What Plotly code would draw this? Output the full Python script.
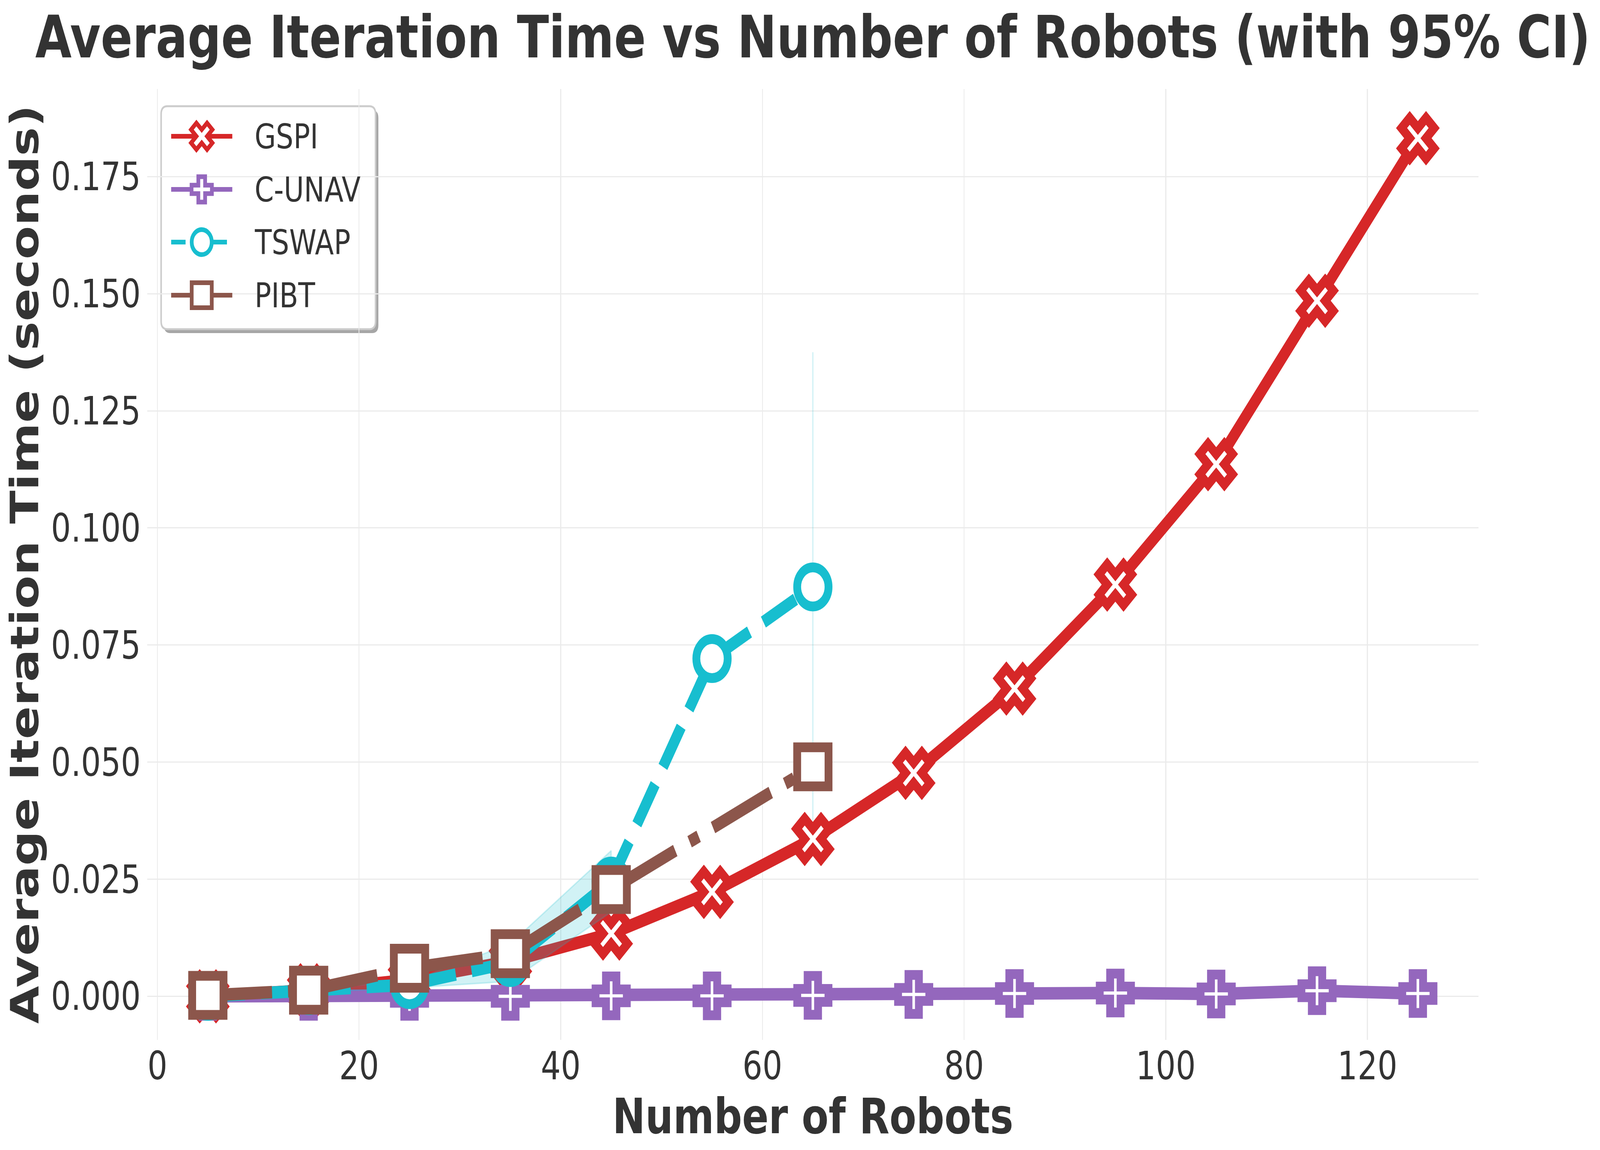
import plotly.graph_objects as go

# ---------------- data ----------------
robots_gspi = [5, 15, 25, 35, 45, 55, 65, 75, 85, 95, 105, 115, 125]
gspi_mean = [0.0000, 0.0013, 0.0035, 0.0075, 0.0134, 0.0223, 0.0336, 0.0477, 0.0657, 0.0879, 0.1136, 0.1485, 0.1832]
gspi_ci = [0.0, 0.00005, 0.0001, 0.0002, 0.0003, 0.0004, 0.0005, 0.0006, 0.0007, 0.0008, 0.0010, 0.0012, 0.0011]

robots_cunav = [5, 15, 25, 35, 45, 55, 65, 75, 85, 95, 105, 115, 125]
cunav_mean = [0.0000, 0.0000, 0.0000, 0.0000, 0.0001, 0.0001, 0.0002, 0.0004, 0.0006, 0.0007, 0.0005, 0.0012, 0.0006]

robots_tswap = [5, 15, 25, 35, 45, 55, 65]
tswap_mean = [0.0000, 0.0012, 0.0025, 0.0072, 0.0246, 0.0721, 0.0874]
tswap_lo = [0.0000, 0.0008, 0.0018, 0.0032, 0.0180, None, 0.0375]
tswap_hi = [0.0000, 0.0016, 0.0032, 0.0112, 0.0311, None, 0.1375]

robots_pibt = [5, 15, 25, 35, 45, 65]
pibt_mean = [0.0002, 0.0013, 0.0060, 0.0091, 0.0228, 0.0490]

series_names = ["GSPI", "C-UNAV", "TSWAP", "PIBT"]
x_ticks = [0, 20, 40, 60, 80, 100, 120]
y_ticks = [0.000, 0.025, 0.050, 0.075, 0.100, 0.125, 0.150, 0.175]

# ---------------- style ----------------
W, H = 5104, 2945
PL, PR, PT, PB = 470, 4716, 228, 2663
PW, PH = PR - PL, PB - PT
FONT = "DejaVu Sans"
TXT = "#333333"
COLORS = {"GSPI": "#d62728", "C-UNAV": "#9467bd", "TSWAP": "#17becf", "PIBT": "#8c564b"}
BAND = {"GSPI": "rgba(214,39,40,0.2)", "TSWAP": "rgba(23,190,207,0.2)"}
SYMBOL = {"GSPI": "x", "C-UNAV": "cross", "TSWAP": "circle", "PIBT": "square"}
MSIZE = {"GSPI": 92, "C-UNAV": 83, "TSWAP": 100, "PIBT": 100}
LSIZE = {"GSPI": 60, "C-UNAV": 54, "TSWAP": 64, "PIBT": 64}
DASH = {"GSPI": "solid", "C-UNAV": "solid", "TSWAP": "118px,51px", "PIBT": "205px,51px,32px,51px"}
LDASH = {"GSPI": "solid", "C-UNAV": "solid", "TSWAP": "46px,20px", "PIBT": "80px,20px,12px,20px"}
LW = 32
MEW = 25

fig = go.Figure()


def band(name, xs, lo, hi):
    segs, cur = [], []
    for x, a, b in zip(xs, lo, hi):
        if a is None or b is None:
            if cur:
                segs.append(cur)
            cur = []
        else:
            cur.append((x, a, b))
    if cur:
        segs.append(cur)
    for seg in segs:
        sx = [p[0] for p in seg]
        px_ = sx + sx[::-1]
        py_ = [p[2] for p in seg] + [p[1] for p in seg][::-1]
        fig.add_trace(go.Scatter(x=px_, y=py_, mode="lines", fill="toself",
                                 fillcolor=BAND[name],
                                 line=dict(color=BAND[name], width=4),
                                 showlegend=False, hoverinfo="skip"))


def line(name, xs, ys):
    fig.add_trace(go.Scatter(
        x=xs, y=ys, mode="lines+markers", name=name, showlegend=False,
        line=dict(color=COLORS[name], width=LW, dash=DASH[name]),
        marker=dict(symbol=SYMBOL[name], size=MSIZE[name], color="white",
                    line=dict(color=COLORS[name], width=MEW))))


band("GSPI", robots_gspi, [m - c for m, c in zip(gspi_mean, gspi_ci)],
     [m + c for m, c in zip(gspi_mean, gspi_ci)])
line("GSPI", robots_gspi, gspi_mean)
line("C-UNAV", robots_cunav, cunav_mean)
band("TSWAP", robots_tswap, tswap_lo, tswap_hi)
line("TSWAP", robots_tswap, tswap_mean)
line("PIBT", robots_pibt, pibt_mean)

# ---------------- custom legend (pixel coords inside plot area) ----------------
LX0, LY0, LX1, LY1, RAD = 44, 44, 728, 615, 20
ROW_Y = [121, 257, 392, 528]
SEG_X0, SEG_X1, MARK_X, TEXT_X = 76, 271, 173.5, 340


def px(x):
    return x / PW


def py(y):
    return 1 - y / PH


def rrect(x0, y0, x1, y1, r):
    return (f"M {px(x0 + r)},{py(y0)} L {px(x1 - r)},{py(y0)} Q {px(x1)},{py(y0)} {px(x1)},{py(y0 + r)} "
            f"L {px(x1)},{py(y1 - r)} Q {px(x1)},{py(y1)} {px(x1 - r)},{py(y1)} "
            f"L {px(x0 + r)},{py(y1)} Q {px(x0)},{py(y1)} {px(x0)},{py(y1 - r)} "
            f"L {px(x0)},{py(y0 + r)} Q {px(x0)},{py(y0)} {px(x0 + r)},{py(y0)} Z")


shapes = [
    dict(type="path", xref="paper", yref="paper", layer="between",
         path=rrect(LX0 + 9, LY0 + 10, LX1 + 9, LY1 + 10, RAD),
         fillcolor="#a6a6a6", line=dict(width=0)),
    dict(type="path", xref="paper", yref="paper", layer="between",
         path=rrect(LX0, LY0, LX1, LY1, RAD),
         fillcolor="white", line=dict(color="#cccccc", width=5)),
]

annotations = []
for name, ry in zip(series_names, ROW_Y):
    fig.add_trace(go.Scatter(x=[SEG_X0, SEG_X1], y=[ry, ry], mode="lines", xaxis="x2", yaxis="y2",
                             line=dict(color=COLORS[name], width=12, dash=LDASH[name]),
                             showlegend=False, hoverinfo="skip"))
    fig.add_trace(go.Scatter(x=[MARK_X], y=[ry], mode="markers", xaxis="x2", yaxis="y2",
                             marker=dict(symbol=SYMBOL[name], size=LSIZE[name], color="white",
                                         line=dict(color=COLORS[name], width=12)),
                             showlegend=False, hoverinfo="skip"))
    annotations.append(dict(xref="x2", yref="y2", x=TEXT_X, y=ry, text=name, showarrow=False,
                            xanchor="left", yanchor="middle",
                            font=dict(family=FONT, size=88, color=TXT)))

# axis titles
annotations.append(dict(xref="paper", yref="paper", x=0.5, y=(PB - 2858) / PH,
                        text="Number of Robots", showarrow=False, xanchor="center", yanchor="middle",
                        font=dict(family=FONT, size=125, color=TXT, weight="bold")))
annotations.append(dict(xref="paper", yref="paper", x=(78 - PL) / PW, y=0.5, textangle=-90,
                        text="Average Iteration Time (seconds)", showarrow=False,
                        xanchor="center", yanchor="middle",
                        font=dict(family=FONT, size=125, color=TXT, weight="bold")))

fig.update_layout(
    width=W, height=H, autosize=False,
    margin=dict(l=PL, r=W - PR, t=PT, b=H - PB, pad=0),
    paper_bgcolor="white", plot_bgcolor="white",
    showlegend=False,
    title=dict(text="Average Iteration Time vs Number of Robots (with 95% CI)",
               x=0.5, xref="paper", xanchor="center",
               y=1 - 95 / H, yref="container", yanchor="middle",
               font=dict(family=FONT, size=150, color=TXT, weight="bold")),
    xaxis=dict(range=[-1, 131], tickvals=x_ticks, ticktext=[str(v) for v in x_ticks],
               showgrid=True, gridcolor="#ebebeb", gridwidth=3, zeroline=False, showline=False,
               ticks="", ticklabelstandoff=0,
               tickfont=dict(family=FONT, size=100, color=TXT)),
    yaxis=dict(range=[-0.0093, 0.1937], tickvals=y_ticks, ticktext=[f"{v:.3f}" for v in y_ticks],
               showgrid=True, gridcolor="#ebebeb", gridwidth=3, zeroline=False, showline=False,
               ticks="", ticklabelstandoff=20,
               tickfont=dict(family=FONT, size=100, color=TXT)),
    xaxis2=dict(overlaying="x", range=[0, PW], visible=False, fixedrange=True),
    yaxis2=dict(overlaying="y", range=[PH, 0], visible=False, fixedrange=True),
    shapes=shapes,
    annotations=annotations,
)

# keep the whole 5104x2945 figure inside whatever viewport the browser really gives
FIT_JS = """
(function(){
  var gd = document.getElementById('{plot_id}');
  document.documentElement.style.margin='0';
  document.documentElement.style.overflow='hidden';
  document.body.style.margin='0';
  document.body.style.overflow='hidden';
  function fit(){
    var sx = window.innerWidth / %d, sy = window.innerHeight / %d;
    if (!(sx > 0) || !(sy > 0)) { return; }
    gd.style.transformOrigin = '0 0';
    gd.style.transform = 'scale(' + sx + ',' + sy + ')';
  }
  fit();
  window.addEventListener('resize', fit);
})();
""" % (W, H)

fig.write_html("out.html", post_script=FIT_JS, config={"displayModeBar": False})
